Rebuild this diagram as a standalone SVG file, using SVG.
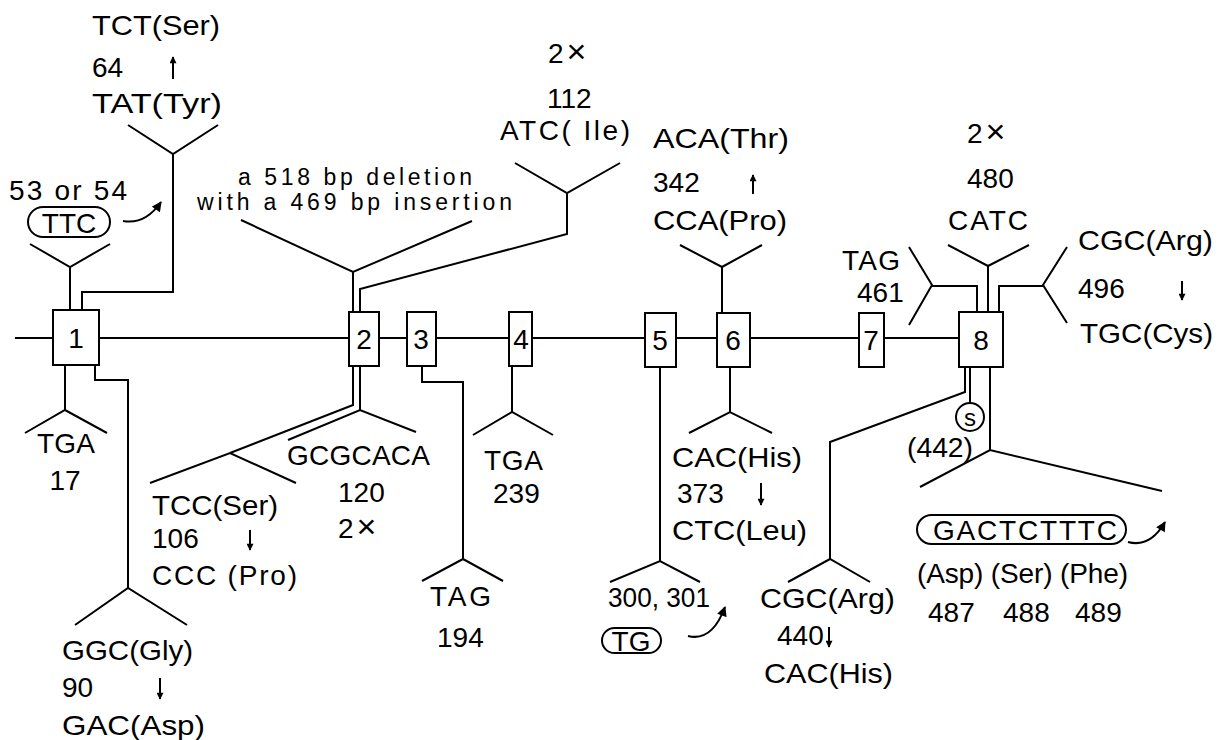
<svg xmlns="http://www.w3.org/2000/svg" width="1220" height="740" viewBox="0 0 1220 740">
<defs>
<style>
.ln{fill:none;stroke:#000;stroke-width:2;stroke-linejoin:miter}
.box{fill:#fff;stroke:#000;stroke-width:2}
.t{font-family:"Liberation Sans",Arial,sans-serif;font-size:28px;fill:#000}
.s{font-family:"Liberation Sans",Arial,sans-serif;font-size:23px;fill:#000}
.n{font-family:"Liberation Sans",Arial,sans-serif;font-size:28px;fill:#000;text-anchor:middle}
.c{text-anchor:middle}
.x{font-size:34px}
.ov{fill:none;stroke:#000;stroke-width:2}
.ar{fill:none;stroke:#000;stroke-width:2}
</style>
<marker id="ah" viewBox="0 0 10 10" refX="9" refY="5" markerWidth="9" markerHeight="7" markerUnits="userSpaceOnUse" orient="auto">
<path d="M0,0 L10,5 L0,10 z" fill="#000"/>
</marker>
<marker id="ahb" viewBox="0 0 10 10" refX="9" refY="5" markerWidth="11" markerHeight="10" markerUnits="userSpaceOnUse" orient="auto">
<path d="M0,0 L10,5 L0,10 z" fill="#000"/>
</marker>
</defs>
<rect width="1220" height="740" fill="#fff"/>

<g id="connectors">
<path class="ln" d="M15,338 H959"/>
<path class="ln" d="M70,310 V267 M30,244 L70,267 L110,244"/>
<path class="ln" d="M82,310 V292 H173 V154 M128,125 L173,154 L218,125"/>
<path class="ln" d="M65,365 V410 M25,433 L65,410 L107,433"/>
<path class="ln" d="M95,365 V380 H128 V588 M75,625 L128,588 L187,625"/>
<path class="ln" d="M353,312 V272 M241,220 L353,272 L472,221"/>
<path class="ln" d="M360,312 V289 L567,234 V193 M515,163 L567,193 L620,163"/>
<path class="ln" d="M353,366 V405 L230,453 M150,483 L230,453 L296,483"/>
<path class="ln" d="M360,366 V410 M288,440 L360,410 L416,432"/>
<path class="ln" d="M422,366 V382 H463 V559 M422,581 L463,559 L503,581"/>
<path class="ln" d="M512,366 V412 M473,435 L512,412 L553,435"/>
<path class="ln" d="M660,367 V561 M610,582 L660,561 L700,582"/>
<path class="ln" d="M722,313 V267 M680,245 L722,267 L762,245"/>
<path class="ln" d="M730,367 V412 M689,433 L730,412 L772,433"/>
<path class="ln" d="M977,312 V286 H932 M909,247 L932,285 L909,325"/>
<path class="ln" d="M988,312 V266 M948,245 L988,266 L1029,245"/>
<path class="ln" d="M999,312 V286 H1043 M1067,247 L1043,285 L1067,323"/>
<path class="ln" d="M965,367 V392 L830,442 V559 M788,582 L830,559 L870,582"/>
<path class="ln" d="M970,367 V403"/>
<path class="ln" d="M990,367 V450 M920,487 L990,450 L1162,491"/>
</g>

<g id="exon1"><rect class="box" x="53" y="310" width="46" height="55"/><text class="n" x="76" y="348">1</text></g>
<g id="exon2"><rect class="box" x="349" y="312" width="30" height="54"/><text class="n" x="364" y="349">2</text></g>
<g id="exon3"><rect class="box" x="407" y="312" width="29" height="54"/><text class="n" x="421" y="349">3</text></g>
<g id="exon4"><rect class="box" x="509" y="312" width="23" height="54"/><text class="n" x="521" y="349">4</text></g>
<g id="exon5"><rect class="box" x="645" y="313" width="31" height="54"/><text class="n" x="660" y="350">5</text></g>
<g id="exon6"><rect class="box" x="717" y="313" width="33" height="54"/><text class="n" x="733" y="350">6</text></g>
<g id="exon7"><rect class="box" x="859" y="313" width="25" height="54"/><text class="n" x="871" y="350">7</text></g>
<g id="exon8"><rect class="box" x="959" y="312" width="44" height="55"/><text class="n" x="981" y="350">8</text></g>

<g id="mut-64">
<text class="t" x="92" y="35" textLength="128" lengthAdjust="spacingAndGlyphs">TCT(Ser)</text>
<text class="t" x="92" y="77">64</text>
<path class="ar" d="M173,79 V57" marker-end="url(#ah)"/>
<text class="t" x="92" y="113" textLength="130" lengthAdjust="spacingAndGlyphs">TAT(Tyr)</text>
</g>
<g id="mut-53">
<text class="t" x="9" y="200" textLength="118" lengthAdjust="spacing">53 or 54</text>
<rect class="ov" x="28" y="207" width="82" height="30" rx="15"/>
<text class="t c" x="69" y="233">TTC</text>
<path class="ar" d="M123,221 Q145,225 161,202" marker-end="url(#ahb)"/>
</g>
<g id="mut-del">
<text class="s" x="238" y="185" textLength="234" lengthAdjust="spacing">a 518 bp deletion</text>
<text class="s" x="197" y="210" textLength="315" lengthAdjust="spacing">with a 469 bp insertion</text>
</g>
<g id="mut-112">
<text class="t" x="548" y="63">2<tspan class="x" dx="3">×</tspan></text>
<text class="t" x="547" y="108">112</text>
<text class="t" x="500" y="140" textLength="130" lengthAdjust="spacing">ATC( Ile)</text>
</g>
<g id="mut-342">
<text class="t" x="653" y="148" textLength="136" lengthAdjust="spacingAndGlyphs">ACA(Thr)</text>
<text class="t" x="653" y="192">342</text>
<path class="ar" d="M753,194 V175" marker-end="url(#ah)"/>
<text class="t" x="653" y="230" textLength="134" lengthAdjust="spacingAndGlyphs">CCA(Pro)</text>
</g>
<g id="mut-461">
<text class="t" x="842" y="270" textLength="58" lengthAdjust="spacing">TAG</text>
<text class="t" x="857" y="302">461</text>
</g>
<g id="mut-480">
<text class="t" x="967" y="143">2<tspan class="x" dx="3">×</tspan></text>
<text class="t" x="967" y="188">480</text>
<text class="t" x="948" y="230" textLength="80" lengthAdjust="spacing">CATC</text>
</g>
<g id="mut-496">
<text class="t" x="1078" y="250" textLength="135" lengthAdjust="spacingAndGlyphs">CGC(Arg)</text>
<text class="t" x="1078" y="298">496</text>
<path class="ar" d="M1182,281 V300" marker-end="url(#ah)"/>
<text class="t" x="1080" y="343" textLength="133" lengthAdjust="spacingAndGlyphs">TGC(Cys)</text>
</g>
<g id="mut-17">
<text class="t" x="37" y="453" textLength="58" lengthAdjust="spacing">TGA</text>
<text class="t c" x="65" y="490">17</text>
</g>
<g id="mut-90">
<text class="t" x="62" y="660" textLength="131" lengthAdjust="spacingAndGlyphs">GGC(Gly)</text>
<text class="t" x="62" y="697">90</text>
<path class="ar" d="M160,678 V699" marker-end="url(#ah)"/>
<text class="t" x="62" y="735" textLength="143" lengthAdjust="spacingAndGlyphs">GAC(Asp)</text>
</g>
<g id="mut-106">
<text class="t" x="152" y="515" textLength="126" lengthAdjust="spacingAndGlyphs">TCC(Ser)</text>
<text class="t" x="152" y="548">106</text>
<path class="ar" d="M250,530 V550" marker-end="url(#ah)"/>
<text class="t" x="152" y="585" textLength="145" lengthAdjust="spacing">CCC (Pro)</text>
</g>
<g id="mut-120">
<text class="t" x="287" y="465" textLength="143" lengthAdjust="spacing">GCGCACA</text>
<text class="t" x="338" y="502">120</text>
<text class="t" x="338" y="538">2<tspan class="x" dx="3">×</tspan></text>
</g>
<g id="mut-194">
<text class="t" x="430" y="606" textLength="61" lengthAdjust="spacing">TAG</text>
<text class="t" x="437" y="647">194</text>
</g>
<g id="mut-239">
<text class="t" x="484" y="470" textLength="59" lengthAdjust="spacing">TGA</text>
<text class="t" x="493" y="503">239</text>
</g>
<g id="mut-300">
<text class="t" x="608" y="607" textLength="102" lengthAdjust="spacingAndGlyphs">300, 301</text>
<rect class="ov" x="602" y="628" width="59" height="25" rx="12.5"/>
<text class="t c" x="631" y="651">TG</text>
<path class="ar" d="M688,636 Q712,642 725,607" marker-end="url(#ahb)"/>
</g>
<g id="mut-373">
<text class="t" x="672" y="467" textLength="130" lengthAdjust="spacingAndGlyphs">CAC(His)</text>
<text class="t" x="677" y="503">373</text>
<path class="ar" d="M761,483 V505" marker-end="url(#ah)"/>
<text class="t" x="672" y="540" textLength="135" lengthAdjust="spacingAndGlyphs">CTC(Leu)</text>
</g>
<g id="mut-440">
<text class="t" x="760" y="608" textLength="135" lengthAdjust="spacingAndGlyphs">CGC(Arg)</text>
<text class="t" x="777" y="645">440</text>
<path class="ar" d="M829,627 V647" marker-end="url(#ah)"/>
<text class="t" x="764" y="683" textLength="129" lengthAdjust="spacingAndGlyphs">CAC(His)</text>
</g>
<g id="mut-442">
<circle class="ov" cx="970" cy="417" r="14"/>
<text class="t c" x="970" y="426" style="font-size:24px">s</text>
<text class="t" x="907" y="457" textLength="66" lengthAdjust="spacingAndGlyphs">(442)</text>
</g>
<g id="mut-487">
<rect class="ov" x="917" y="515" width="209" height="29" rx="14.5"/>
<text class="t" x="933" y="540" textLength="184" lengthAdjust="spacing">GACTCTTTC</text>
<path class="ar" d="M1128,542 Q1150,548 1165,522" marker-end="url(#ahb)"/>
<text class="t" x="917" y="583" textLength="211" lengthAdjust="spacing">(Asp) (Ser) (Phe)</text>
<text class="t" x="928" y="622">487</text>
<text class="t" x="1003" y="622">488</text>
<text class="t" x="1075" y="622">489</text>
</g>
</svg>
